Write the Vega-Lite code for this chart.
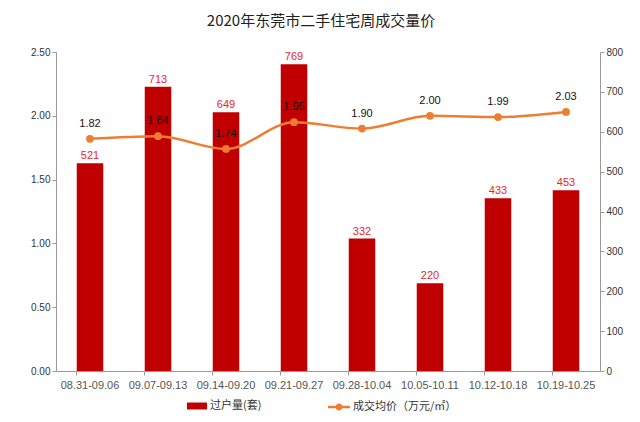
{
  "$schema": "https://vega.github.io/schema/vega-lite/v6.json",
  "width": 544,
  "height": 319,
  "autosize": {"type": "none"},
  "padding": {"left": 56, "top": 52, "right": 40, "bottom": 51},
  "background": "white",
  "config": {
    "font": "Liberation Sans, Noto Sans CJK SC",
    "view": {"stroke": null},
    "axis": {"labelColor": "#333", "labelFontSize": 10, "domainColor": "#999", "tickColor": "#999", "grid": false, "title": null}
  },
  "title": {"text": "2020年东莞市二手住宅周成交量价", "fontSize": 15, "fontWeight": "normal", "color": "#222", "font": "Noto Sans CJK SC", "offset": 18, "dx": -7},
  "data": {"values": [
    {"week": "08.31-09.06", "count": 521, "price": 1.82},
    {"week": "09.07-09.13", "count": 713, "price": 1.84},
    {"week": "09.14-09.20", "count": 649, "price": 1.74},
    {"week": "09.21-09.27", "count": 769, "price": 1.95},
    {"week": "09.28-10.04", "count": 332, "price": 1.90},
    {"week": "10.05-10.11", "count": 220, "price": 2.00},
    {"week": "10.12-10.18", "count": 433, "price": 1.99},
    {"week": "10.19-10.25", "count": 453, "price": 2.03}
  ]},
  "encoding": {
    "x": {"field": "week", "type": "nominal", "sort": null,
      "scale": {"paddingInner": 0.61, "paddingOuter": 0.305},
      "axis": {"labelAngle": 0, "ticks": true, "bandPosition": 0, "tickSize": 4, "labelFontSize": 11, "labelColor": "#555", "labelPadding": 4}}
  },
  "layer": [
    {
      "encoding": {
        "y": {"field": "count", "type": "quantitative",
          "scale": {"domain": [0, 800]},
          "axis": {"orient": "right", "values": [0,100,200,300,400,500,600,700,800], "tickSize": 4}}
      },
      "layer": [
        {"mark": {"type": "bar", "color": "#C00000"},
         "encoding": {"fill": {"datum": "过户量(套)", "scale": {"range": ["#C00000"]},
           "legend": {"title": null, "orient": "none", "legendX": 131, "legendY": 344,
             "symbolType": "M-1,-0.35H1V0.35H-1Z", "symbolSize": 400, "symbolStrokeWidth": 0, "labelOffset": 3,
             "labelFontSize": 11, "labelColor": "#333", "labelFont": "Noto Sans CJK SC"}}}},
        {"mark": {"type": "text", "color": "#E8262B", "fontSize": 11, "baseline": "bottom", "dy": -2},
         "encoding": {"text": {"field": "count"}}}
      ]
    },
    {
      "encoding": {
        "y": {"field": "price", "type": "quantitative",
          "scale": {"domain": [0, 2.5]},
          "axis": {"orient": "left", "values": [0, 0.5, 1, 1.5, 2, 2.5], "format": ".2f", "tickSize": 4}}
      },
      "layer": [
        {"mark": {"type": "line", "color": "#ED7D31", "strokeWidth": 2.5, "interpolate": "monotone"},
         "encoding": {"stroke": {"datum": "成交均价（万元/㎡）", "scale": {"range": ["#ED7D31"]},
           "legend": {"title": null, "orient": "none", "legendX": 272, "legendY": 344,
             "symbolType": "M-1,-0.11H1V0.11H-1Z M0.32,0A0.32,0.32,0,1,1,-0.32,0A0.32,0.32,0,1,1,0.32,0Z",
             "symbolSize": 484, "symbolFillColor": "#ED7D31", "symbolStrokeWidth": 0, "labelOffset": 3,
             "labelFontSize": 11, "labelColor": "#333", "labelFont": "Noto Sans CJK SC"}}}},
        {"mark": {"type": "point", "filled": true, "color": "#ED7D31", "size": 60, "opacity": 1}},
        {"mark": {"type": "text", "color": "#111", "fontSize": 11, "baseline": "bottom", "dy": -10},
         "encoding": {"text": {"field": "price", "format": ".2f"}}}
      ]
    }
  ],
  "resolve": {"scale": {"y": "independent"}}
}
